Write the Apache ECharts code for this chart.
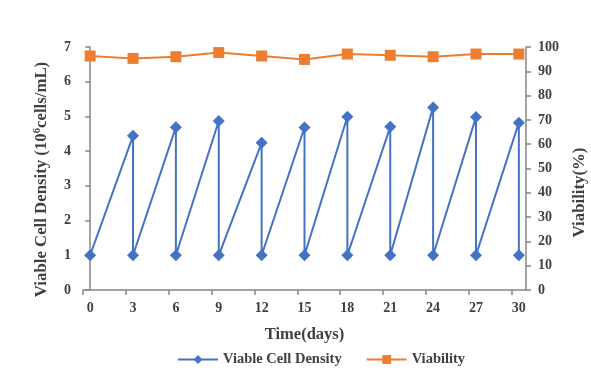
<!DOCTYPE html>
<html><head><meta charset="utf-8">
<script src="https://cdn.jsdelivr.net/npm/echarts@6/dist/echarts.min.js"></script>
<style>html,body{margin:0;padding:0;background:#fff}#c{width:591px;height:371px}</style>
</head><body><div id="c"></div>
<script>
const dayTicks = [0,3,6,9,12,15,18,21,24,27,30];
const vcdDays   = [0,3,3,6,6,9,9,12,12,15,15,18,18,21,21,24,24,27,27,30,30];
const vcdValues = [1,4.44,1,4.69,1,4.87,1,4.24,1,4.68,1,4.99,1,4.70,1,5.26,1,4.98,1,4.82,1];
const viabilityDays = [0,3,6,9,12,15,18,21,24,27,30];
const viabilityValues = [96.3,95.3,96.0,97.7,96.3,94.9,97.1,96.6,96.0,97.1,97.1];
const tickBoundaries = [-0.5,2.5,5.5,8.5,11.5,14.5,17.5,20.5,23.5,26.5,29.5];

const FONT = 'Liberation Serif';
const lblColor = '#404040';
const axisGrey = '#868686';

const chart = echarts.init(document.getElementById('c'), null, {renderer:'canvas'});
chart.setOption({
  animation:false,
  backgroundColor:'#fff',
  grid:{left:83,right:65,top:47,bottom:81,containLabel:false,outerBoundsMode:'none'},
  xAxis:{
    type:'value', min:-0.5, max:30.5,
    name:'Time(days)', nameLocation:'middle', nameGap:36,
    nameTextStyle:{fontFamily:FONT,fontWeight:'bold',fontSize:16.5,color:lblColor},
    axisLine:{show:true,onZero:false,lineStyle:{color:axisGrey,width:1.5}},
    axisTick:{show:true,customValues:tickBoundaries,length:5,lineStyle:{color:axisGrey,width:1.5}},
    axisLabel:{customValues:dayTicks,fontFamily:FONT,fontWeight:'bold',fontSize:14,color:lblColor,margin:11},
    splitLine:{show:false}
  },
  yAxis:[{
    type:'value', min:0, max:7, interval:1, position:'left',
    name:'{a|Viable Cell Density (10}{s|6}{a|cells/mL)}', nameLocation:'middle', nameGap:32, nameRotate:90,
    nameTextStyle:{padding:[0,22,0,0],rich:{
      a:{fontFamily:FONT,fontWeight:'bold',fontSize:16.8,color:lblColor},
      s:{fontFamily:FONT,fontWeight:'bold',fontSize:10.5,color:lblColor,verticalAlign:'top',padding:[0,0,8,0]}
    }},
    axisLine:{show:true,lineStyle:{color:axisGrey,width:1.5}},
    axisTick:{show:true,length:5,lineStyle:{color:axisGrey,width:1.5}},
    axisLabel:{fontFamily:FONT,fontWeight:'bold',fontSize:14,color:lblColor,margin:12},
    splitLine:{show:false}
  },{
    type:'value', min:0, max:100, interval:10, position:'right',
    name:'Viability(%)', nameLocation:'middle', nameGap:45, nameRotate:90,
    nameTextStyle:{fontFamily:FONT,fontWeight:'bold',fontSize:16.8,color:lblColor,padding:[0,48,0,0]},
    axisLine:{show:true,lineStyle:{color:axisGrey,width:1.5}},
    axisTick:{show:true,length:5,lineStyle:{color:axisGrey,width:1.5}},
    axisLabel:{fontFamily:FONT,fontWeight:'bold',fontSize:14,color:lblColor,margin:12},
    splitLine:{show:false}
  }],
  legend:{
    left:172, top:347, itemWidth:40, itemHeight:11, itemGap:24,
    textStyle:{fontFamily:FONT,fontWeight:'bold',fontSize:14.5,color:lblColor},
    data:['Viable Cell Density','Viability']
  },
  series:[{
    name:'Viable Cell Density', type:'line', yAxisIndex:0,
    data:vcdDays.map((d,i)=>[d,vcdValues[i]]),
    symbol:'diamond', symbolSize:12,
    lineStyle:{color:'#4472C4',width:2},
    itemStyle:{color:'#4472C4'}
  },{
    name:'Viability', type:'line', yAxisIndex:1,
    data:viabilityDays.map((d,i)=>[d,viabilityValues[i]]),
    symbol:'rect', symbolSize:11,
    lineStyle:{color:'#ED7D31',width:2},
    itemStyle:{color:'#ED7D31'}
  }]
});
</script></body></html>
